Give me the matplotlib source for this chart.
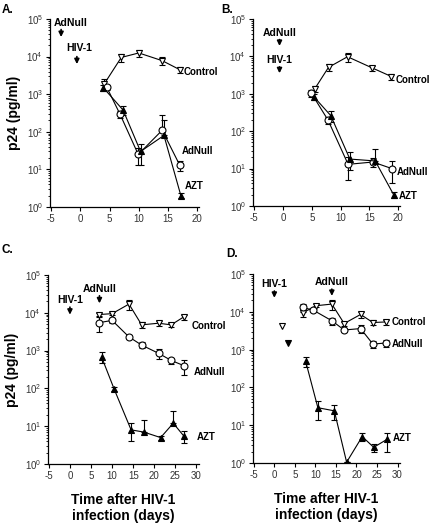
import numpy as np
import matplotlib
matplotlib.use("Agg")
import matplotlib.pyplot as plt
from matplotlib.ticker import LogLocator, NullFormatter

plt.rcParams["font.family"] = ["Liberation Sans", "DejaVu Sans"]
plt.rcParams["mathtext.default"] = "regular"
plt.rcParams["axes.unicode_minus"] = False

# ---- data (p24 pg/ml, mean and SEM) ----
# panel A
ctrl_a_days = [4.1, 7.0, 10.0, 14.0, 17.0]
ctrl_a = [1900, 9500, 12500, 7800, 4500]
ctrl_a_sem = [600, 2500, 2500, 1800, 800]
adnull_a_days = [4.5, 6.8, 9.9, 14.0, 17.0]
adnull_a = [1550, 290, 25, 110, 13]
adnull_a_sem = [250, 60, 12, 170, 4]
azt_a_days = [3.9, 7.3, 10.3, 14.3, 17.2]
azt_a = [1500, 380, 30, 80, 2.0]
azt_a_sem = [300, 100, 17, 120, 0.3]

# panel B
ctrl_b_days = [5.5, 7.9, 11.2, 15.5, 18.8]
ctrl_b = [1350, 5100, 9800, 4900, 2900]
ctrl_b_sem = [250, 1000, 2500, 800, 500]
adnull_b_days = [4.9, 7.8, 11.3, 15.6, 18.9]
adnull_b = [1050, 200, 13, 15, 10]
adnull_b_sem = [250, 40, 8, 4, 6]
azt_b_days = [5.4, 8.3, 11.6, 16.0, 19.2]
azt_b = [820, 260, 18, 16, 2.0]
azt_b_sem = [150, 80, 9, 17, 0.4]

# panel C
ctrl_c_days = [7.0, 10.0, 14.0, 17.0, 21.0, 24.0, 27.0]
ctrl_c = [9000, 9500, 17000, 4800, 5300, 4800, 7800]
ctrl_c_sem = [1000, 1000, 5000, 800, 800, 700, 1200]
adnull_c_days = [7.0, 10.0, 14.0, 17.0, 21.0, 24.0, 27.0]
adnull_c = [5500, 6300, 2300, 1400, 850, 550, 400]
adnull_c_sem = [2300, 900, 300, 250, 250, 100, 180]
azt_c_days = [7.5, 10.5, 14.5, 17.5, 21.5, 24.5, 27.0]
azt_c = [680, 95, 8, 7, 5, 12, 5.5]
azt_c_sem = [220, 12, 4, 8, 0.6, 14, 2]

# panel D
ctrl_d_days = [7.0, 10.2, 14.0, 17.0, 21.0, 24.0, 27.3]
ctrl_d = [9500, 14500, 16000, 4900, 8500, 5200, 5400]
ctrl_d_sem = [2000, 1500, 5000, 600, 1500, 700, 800]
adnull_d_days = [7.0, 9.5, 14.0, 17.0, 21.0, 24.0, 27.3]
adnull_d = [13000, 11000, 5800, 3300, 3600, 1400, 1500]
adnull_d_sem = [3000, 1000, 1200, 300, 800, 300, 300]
azt_d_days = [7.6, 10.6, 14.6, 17.6, 21.4, 24.2, 27.4]
azt_d = [500, 29, 24, 1.05, 5.0, 2.6, 4.2]
azt_d_sem = [150, 15, 10, 0, 1.2, 0.6, 2.2]
# lone early points in D
early_ctrl_day = [1.8]
early_ctrl = [4100]
early_azt_day = [3.3]
early_azt = [1500]


def log_err(y, sem):
    # drop the lower arm when it would go below zero (log axis)
    y = np.array(y, dtype=float)
    sem = np.array(sem, dtype=float)
    lo = np.where(sem >= y, 0, sem)
    return [lo, sem]


def series(ax, x, y, sem, marker, face, ms):
    ax.errorbar(x, y, yerr=log_err(y, sem), color="k", lw=0.8,
                marker=marker, mfc=face, mec="k", ms=ms, mew=0.8,
                capsize=2.2, elinewidth=0.8, capthick=0.8, zorder=3)


def setup_axes(ax, xmax, xticks):
    ax.set_yscale("log")
    ax.set_ylim(1, 1e5)
    ax.set_xlim(-5.2, xmax)
    ax.set_xticks(xticks)
    ax.yaxis.set_major_locator(LogLocator(base=10, numticks=10))
    ax.yaxis.set_minor_locator(LogLocator(base=10, subs=np.arange(2, 10), numticks=10))
    ax.yaxis.set_minor_formatter(NullFormatter())
    for s in ["top", "right"]:
        ax.spines[s].set_visible(False)
    for s in ["left", "bottom"]:
        ax.spines[s].set_linewidth(0.9)
    ax.tick_params(which="major", direction="out", length=3, width=0.8,
                   labelsize=7, colors="k", labelcolor="#333333", pad=2)
    ax.tick_params(which="minor", direction="out", length=1.6, width=0.6)


def arrow(ax, x, y_top, y_bot, label, text_dx=0.0, text_gap=1.12):
    ax.annotate("", xy=(x, y_bot), xytext=(x, y_top),
                arrowprops=dict(arrowstyle="-|>", color="k", lw=1.2,
                                mutation_scale=7, shrinkA=0, shrinkB=0))
    ax.text(x + text_dx, y_top * text_gap, label, ha="center", va="bottom",
            fontsize=7.5, fontweight="bold")


def series_label(ax, x, y, text):
    ax.text(x, y, text, ha="left", va="center", fontsize=7,
            fontweight="bold", clip_on=False)


W, H = 431, 523
fig = plt.figure(figsize=(W / 100, H / 100), dpi=100)


def box(x0, x1, ytop, ybot):
    return [x0 / W, 1 - ybot / H, (x1 - x0) / W, (ybot - ytop) / H]


ax_a = fig.add_axes(box(50, 199, 19, 207))
ax_b = fig.add_axes(box(253, 400, 19, 206))
ax_c = fig.add_axes(box(48, 199, 275, 464))
ax_d = fig.add_axes(box(253, 400, 274, 463))

# A
setup_axes(ax_a, 20.3, [-5, 0, 5, 10, 15, 20])
series(ax_a, ctrl_a_days, ctrl_a, ctrl_a_sem, "v", "white", 4.5)
series(ax_a, adnull_a_days, adnull_a, adnull_a_sem, "o", "white", 5)
series(ax_a, azt_a_days, azt_a, azt_a_sem, "^", "k", 4.5)
arrow(ax_a, -3.3, 10**4.72, 10**4.52, "AdNull", text_dx=1.6)
arrow(ax_a, -0.6, 10**4.0, 10**3.8, "HIV-1", text_dx=0.4, text_gap=1.25)
series_label(ax_a, 17.6, 10**3.6, "Control")
series_label(ax_a, 17.3, 10**1.5, "AdNull")
series_label(ax_a, 17.8, 10**0.55, "AZT")
ax_a.set_ylabel("p24 (pg/ml)", fontsize=10, fontweight="bold", labelpad=4)

# B
setup_axes(ax_b, 20.3, [-5, 0, 5, 10, 15, 20])
series(ax_b, ctrl_b_days, ctrl_b, ctrl_b_sem, "v", "white", 4.5)
series(ax_b, adnull_b_days, adnull_b, adnull_b_sem, "o", "white", 5)
series(ax_b, azt_b_days, azt_b, azt_b_sem, "^", "k", 4.5)
arrow(ax_b, -0.6, 10**4.45, 10**4.28, "AdNull")
arrow(ax_b, -0.6, 10**3.72, 10**3.55, "HIV-1")
series_label(ax_b, 19.5, 10**3.37, "Control")
series_label(ax_b, 19.7, 10**0.92, "AdNull")
series_label(ax_b, 20.0, 10**0.27, "AZT")

# C
setup_axes(ax_c, 30.6, [-5, 0, 5, 10, 15, 20, 25, 30])
series(ax_c, ctrl_c_days, ctrl_c, ctrl_c_sem, "v", "white", 4.5)
series(ax_c, adnull_c_days, adnull_c, adnull_c_sem, "o", "white", 5)
series(ax_c, azt_c_days, azt_c, azt_c_sem, "^", "k", 4.5)
arrow(ax_c, 0, 10**4.15, 10**3.95, "HIV-1")
arrow(ax_c, 7, 10**4.45, 10**4.25, "AdNull")
series_label(ax_c, 28.9, 10**3.66, "Control")
series_label(ax_c, 29.4, 10**2.43, "AdNull")
series_label(ax_c, 30.1, 10**0.72, "AZT")
ax_c.set_ylabel("p24 (pg/ml)", fontsize=10, fontweight="bold", labelpad=4)
ax_c.set_xlabel("Time after HIV-1\ninfection (days)", fontsize=10,
                fontweight="bold", labelpad=9, linespacing=1.15)

# D
setup_axes(ax_d, 30.6, [-5, 0, 5, 10, 15, 20, 25, 30])
series(ax_d, ctrl_d_days, ctrl_d, ctrl_d_sem, "v", "white", 4.5)
series(ax_d, adnull_d_days, adnull_d, adnull_d_sem, "o", "white", 5)
series(ax_d, azt_d_days, azt_d, azt_d_sem, "^", "k", 4.5)
ax_d.plot(early_ctrl_day, early_ctrl, "v", mfc="white", mec="k", ms=4.5, mew=0.8)
ax_d.plot(early_azt_day, early_azt, "v", mfc="k", mec="k", ms=4.5, mew=0.8)
arrow(ax_d, 0, 10**4.55, 10**4.37, "HIV-1")
arrow(ax_d, 14, 10**4.6, 10**4.42, "AdNull")
series_label(ax_d, 28.6, 10**3.72, "Control")
series_label(ax_d, 28.6, 10**3.15, "AdNull")
series_label(ax_d, 28.9, 10**0.65, "AZT")
ax_d.set_xlabel("Time after HIV-1\ninfection (days)", fontsize=10,
                fontweight="bold", labelpad=9, linespacing=1.15)

# panel letters
for x, y, letter in [(2, 4, "A."), (221, 4, "B."), (2, 244, "C."), (226, 248, "D.")]:
    fig.text(x / W, 1 - y / H, letter, ha="left", va="top",
             fontsize=8.5, fontweight="bold")

fig.savefig("out.png", dpi=100)
